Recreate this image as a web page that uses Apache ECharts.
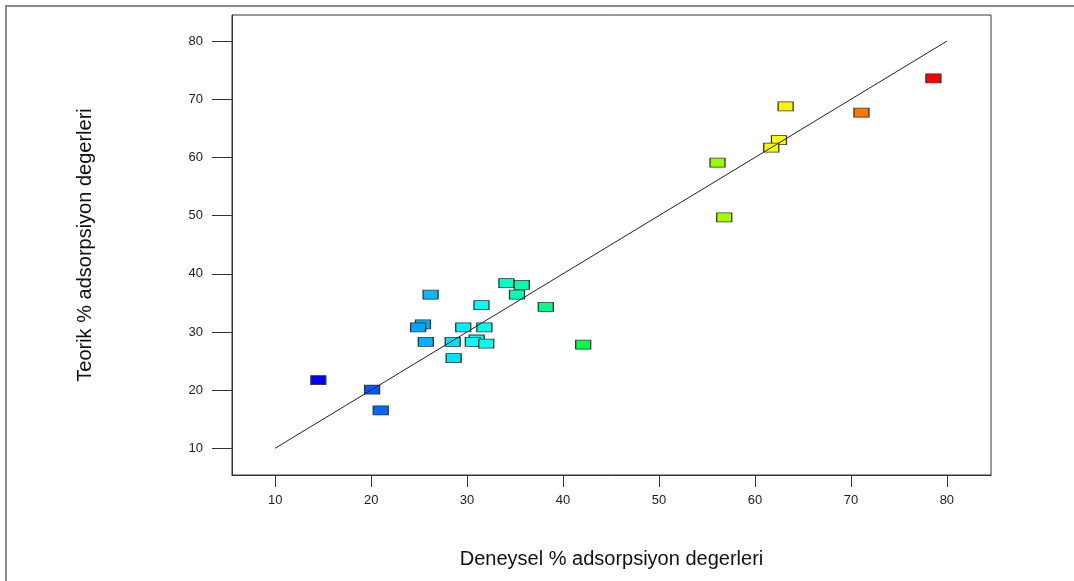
<!DOCTYPE html>
<html>
<head>
<meta charset="utf-8">
<script src="https://cdn.jsdelivr.net/npm/echarts@6/dist/echarts.min.js"></script>
<style>
  html, body { margin: 0; padding: 0; background: #fff; }
  #chart { width: 1074px; height: 581px; }
</style>
</head>
<body>
<div id="chart"></div>
<script>
// Actual (experimental) adsorption %
var actualValues = [14.5, 20.1, 21.0, 26.2, 25.4, 24.9, 25.7, 28.6, 28.5, 29.6, 31.0, 30.6, 32.0, 31.8, 31.5, 34.1, 35.7, 35.2, 38.2, 42.1, 56.1, 56.8, 63.2, 62.5, 61.7, 71.1, 78.6];
// Predicted (theoretical) adsorption %
var predictedValues = [21.7, 20.1, 16.5, 36.4, 31.3, 30.8, 28.3, 25.5, 28.3, 30.8, 28.7, 28.3, 28.0, 30.8, 34.6, 38.4, 38.1, 36.4, 34.3, 27.8, 59.1, 49.7, 68.8, 63.0, 61.7, 67.7, 73.6];
// Reference y = x line
var lineX = [10, 80];
var lineY = [10, 80];
var xTicks = [10, 20, 30, 40, 50, 60, 70, 80];
var yTicks = [10, 20, 30, 40, 50, 60, 70, 80];
var xTitle = 'Deneysel % adsorpsiyon degerleri';
var yTitle = 'Teorik % adsorpsiyon degerleri';

var points = actualValues.map(function (v, i) { return [v, predictedValues[i]]; });
var linePts = lineX.map(function (v, i) { return [v, lineY[i]]; });

var chart = echarts.init(document.getElementById('chart'), null, { renderer: 'canvas' });
var font = 'Arial, "Liberation Sans", sans-serif';
chart.setOption({
  animation: false,
  backgroundColor: '#fff',
  graphic: [{
    type: 'rect',
    shape: { x: 6, y: 6, width: 1200, height: 700 },
    style: { fill: 'none', stroke: '#8a8a8a', lineWidth: 2 },
    silent: true, z: -1
  }],
  grid: {
    left: 232, top: 15, right: 83, bottom: 106,
    show: true, borderColor: '#333', borderWidth: 1, backgroundColor: 'transparent'
  },
  visualMap: {
    show: false, type: 'continuous', seriesIndex: 0, dimension: 0,
    min: Math.min.apply(null, actualValues), max: Math.max.apply(null, actualValues),
    inRange: { color: ['#0000ff', '#00ffff', '#00ff00', '#ffff00', '#ff0000'] }
  },
  xAxis: {
    type: 'value', min: 5.5, max: 84.6,
    name: xTitle, nameLocation: 'middle', nameGap: 74,
    nameTextStyle: { fontFamily: font, fontSize: 20, color: '#111' },
    axisLine: { show: true, onZero: false, lineStyle: { color: '#333', width: 1 } },
    axisTick: { show: true, length: 12, customValues: xTicks, lineStyle: { color: '#333' } },
    axisLabel: { show: true, customValues: xTicks, margin: 19, fontFamily: font, fontSize: 13, color: '#1a1a2a' },
    splitLine: { show: false }
  },
  yAxis: {
    type: 'value', min: 5.4, max: 84.5,
    name: yTitle, nameLocation: 'middle', nameGap: 137, nameRotate: 90,
    nameTextStyle: { fontFamily: font, fontSize: 20, color: '#111' },
    axisLine: { show: true, onZero: false, lineStyle: { color: '#333', width: 1 } },
    axisTick: { show: true, length: 20, customValues: yTicks, lineStyle: { color: '#333' } },
    axisLabel: { show: true, customValues: yTicks, margin: 29, fontFamily: font, fontSize: 13, color: '#1a1a2a' },
    splitLine: { show: false }
  },
  series: [{
    type: 'scatter',
    data: points,
    symbol: 'rect',
    symbolSize: [15, 9],
    itemStyle: { borderColor: '#333', borderWidth: 1, opacity: 1 },
    z: 2
  }, {
    type: 'line',
    data: linePts,
    symbol: 'none',
    lineStyle: { color: '#222', width: 1 },
    z: 3
  }]
});
</script>
</body>
</html>
